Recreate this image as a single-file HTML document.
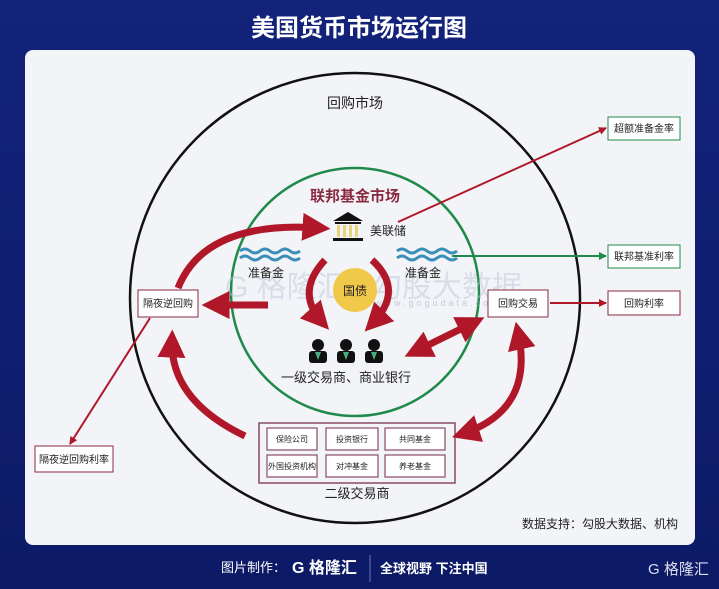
<!DOCTYPE html>
<html><head><meta charset="utf-8"><style>
body{margin:0;width:719px;height:589px;overflow:hidden;background:linear-gradient(#13237a,#0c1a66);font-family:"Liberation Sans","Noto Sans CJK SC",sans-serif;}
svg{display:block}
</style></head><body>
<svg width="719" height="589" viewBox="0 0 719 589" font-family="Liberation Sans, Noto Sans CJK SC, sans-serif">
<defs>
<marker id="ar" markerWidth="8" markerHeight="8" refX="7" refY="4" orient="auto" markerUnits="userSpaceOnUse"><path d="M0,0 L8,4 L0,8z" fill="#b0182a"/></marker>
<marker id="ag" markerWidth="8" markerHeight="8" refX="7" refY="4" orient="auto" markerUnits="userSpaceOnUse"><path d="M0,0 L8,4 L0,8z" fill="#1f8a4a"/></marker>
<marker id="big" markerWidth="4" markerHeight="4" refX="2.5" refY="2" orient="auto-start-reverse"><path d="M0,0 L4,2 L0,4z" fill="#b0182a"/></marker>
</defs>
<text x="359" y="36" font-size="24" font-weight="bold" fill="#fff" text-anchor="middle">美国货币市场运行图</text>
<rect x="25" y="50" width="670" height="495" rx="8" fill="#f3f4f7"/>
<circle cx="355" cy="298" r="225" fill="none" stroke="#111" stroke-width="2.5"/>
<circle cx="355" cy="292" r="124" fill="none" stroke="#1f8a4a" stroke-width="2.5"/>
<text x="355" y="108" font-size="14" fill="#222" text-anchor="middle">回购市场</text>
<text x="355" y="201" font-size="15" font-weight="bold" fill="#8a2a40" text-anchor="middle">联邦基金市场</text>
<!-- watermark -->
<text x="225" y="297" font-size="30" fill="#b8c4d8" opacity="0.45">G 格隆汇</text>
<text x="372" y="297" font-size="30" fill="#b8c4d8" opacity="0.45">勾股大数据</text>
<text x="375" y="306" font-size="9" fill="#9fb0cc" letter-spacing="3" opacity="0.6">www.gogudata.com</text>
<!-- bank -->
<g fill="#111"><path d="M333,221 L348,212 L363,221z"/><rect x="335" y="222" width="26" height="2"/><rect x="333" y="238" width="30" height="3"/></g>
<g fill="#e8d27a"><rect x="337" y="225" width="3" height="12"/><rect x="343" y="225" width="3" height="12"/><rect x="349" y="225" width="3" height="12"/><rect x="355" y="225" width="3" height="12"/></g>
<text x="370" y="235" font-size="12" fill="#222">美联储</text>
<!-- waves -->
<g stroke="#3a8fb8" stroke-width="3" fill="none"><path d="M240,251 q5,-4 10,0 t10,0 t10,0 t10,0 t10,0 t10,0"/><path d="M240,258 q5,-4 10,0 t10,0 t10,0 t10,0 t10,0 t10,0"/>
<path d="M397,251 q5,-4 10,0 t10,0 t10,0 t10,0 t10,0 t10,0"/><path d="M397,258 q5,-4 10,0 t10,0 t10,0 t10,0 t10,0 t10,0"/></g>
<text x="248" y="277" font-size="12" fill="#222">准备金</text>
<text x="405" y="277" font-size="12" fill="#222">准备金</text>
<circle cx="355" cy="290" r="22" fill="#f0c84a"/>
<text x="355" y="295" font-size="12" fill="#222" text-anchor="middle">国债</text>
<!-- people -->
<g fill="#111"><circle cx="318" cy="345" r="6"/><rect x="309" y="351" width="18" height="12" rx="3"/>
<circle cx="346" cy="345" r="6"/><rect x="337" y="351" width="18" height="12" rx="3"/>
<circle cx="374" cy="345" r="6"/><rect x="365" y="351" width="18" height="12" rx="3"/></g>
<g fill="#4ab080"><path d="M315,352 l3,8 l3,-8z"/><path d="M343,352 l3,8 l3,-8z"/><path d="M371,352 l3,8 l3,-8z"/></g>
<text x="346" y="382" font-size="13" fill="#222" text-anchor="middle">一级交易商、商业银行</text>
<!-- boxes -->
<g font-size="10" fill="#222" text-anchor="middle">
<rect x="608" y="117" width="72" height="23" fill="#fff" stroke="#1f8a4a"/><text x="644" y="132">超额准备金率</text>
<rect x="608" y="245" width="72" height="23" fill="#fff" stroke="#1f8a4a"/><text x="644" y="260">联邦基准利率</text>
<rect x="608" y="291" width="72" height="24" fill="#fff" stroke="#8a2a40"/><text x="644" y="307">回购利率</text>
<rect x="138" y="290" width="60" height="27" fill="#fff" stroke="#8a2a40"/><text x="168" y="307">隔夜逆回购</text>
<rect x="488" y="290" width="60" height="27" fill="#fff" stroke="#8a2a40"/><text x="518" y="307">回购交易</text>
<rect x="35" y="446" width="78" height="26" fill="#fff" stroke="#8a2a40"/><text x="74" y="463">隔夜逆回购利率</text>
</g>
<rect x="259" y="423" width="196" height="60" fill="#f3f4f7" stroke="#8a4a66" stroke-width="1.5"/>
<g font-size="8" fill="#222" text-anchor="middle" stroke-width="1.2">
<rect x="267" y="428" width="50" height="22" fill="#fff" stroke="#8a4a66"/><text x="292" y="442">保险公司</text>
<rect x="326" y="428" width="52" height="22" fill="#fff" stroke="#8a4a66"/><text x="352" y="442">投资银行</text>
<rect x="385" y="428" width="60" height="22" fill="#fff" stroke="#8a4a66"/><text x="415" y="442">共同基金</text>
<rect x="267" y="455" width="50" height="22" fill="#fff" stroke="#8a4a66"/><text x="292" y="469">外国投资机构</text>
<rect x="326" y="455" width="52" height="22" fill="#fff" stroke="#8a4a66"/><text x="352" y="469">对冲基金</text>
<rect x="385" y="455" width="60" height="22" fill="#fff" stroke="#8a4a66"/><text x="415" y="469">养老基金</text>
</g>
<rect x="318" y="484" width="78" height="18" fill="#f3f4f7"/>
<text x="357" y="498" font-size="13" fill="#222" text-anchor="middle">二级交易商</text>
<text x="678" y="528" font-size="12" fill="#222" text-anchor="end">数据支持：勾股大数据、机构</text>
<!-- thin lines -->
<line x1="398" y1="222" x2="606" y2="128" stroke="#b0182a" stroke-width="2" marker-end="url(#ar)"/>
<line x1="452" y1="256" x2="606" y2="256" stroke="#1f8a4a" stroke-width="2" marker-end="url(#ag)"/>
<line x1="550" y1="303" x2="606" y2="303" stroke="#b0182a" stroke-width="2" marker-end="url(#ar)"/>
<line x1="150" y1="318" x2="70" y2="444" stroke="#b0182a" stroke-width="2" marker-end="url(#ar)"/>
<!-- thick arrows -->
<g stroke="#b0182a" stroke-width="7" fill="none" stroke-linecap="butt">
<path d="M178,288 Q205,220 320,228" marker-end="url(#big)"/>
<path d="M268,305 L212,305" marker-end="url(#big)"/>
<path d="M245,436 Q170,400 172,340" marker-end="url(#big)"/>
<path d="M325,260 Q295,292 322,322" marker-end="url(#big)"/>
<path d="M372,260 Q405,290 372,324" marker-end="url(#big)"/>
<path d="M414,352 L475,322" marker-start="url(#big)" marker-end="url(#big)"/>
<path d="M518,332 Q535,410 462,434" marker-start="url(#big)" marker-end="url(#big)"/>
</g>
<!-- footer -->
<text x="221" y="572" font-size="13" fill="#fff">图片制作：</text>
<text x="292" y="573" font-size="16" font-weight="bold" fill="#fff">G 格隆汇</text>
<line x1="370" y1="555" x2="370" y2="582" stroke="#6a78b0"/>
<text x="380" y="573" font-size="13" font-weight="bold" fill="#fff">全球视野 下注中国</text>
<text x="648" y="574" font-size="15" fill="#dde">G 格隆汇</text>
</svg>
</body></html>
